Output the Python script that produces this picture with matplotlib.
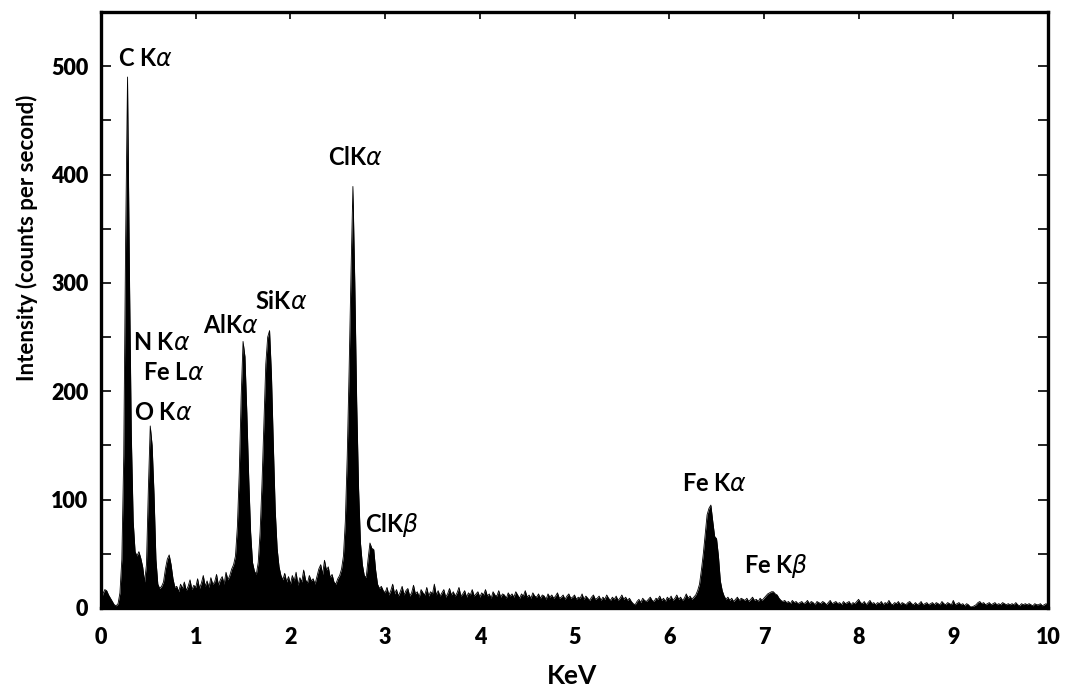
import matplotlib
matplotlib.use("Agg")
import matplotlib.pyplot as plt
import numpy as np

# EDS spectrum, channels every 0.02 keV from 0 to 10 keV
energy = np.linspace(0, 10, 501)

# counts per second, 0.00 - 2.98 keV
cps_low = [
    6, 13, 17, 16, 12, 9, 6, 3, 2, 4,            # 0.00
    14, 45, 140, 340, 490, 310, 160, 80, 52, 48,  # 0.20
    52, 46, 38, 24, 40, 110, 168, 150, 105, 45,   # 0.40
    22, 18, 20, 24, 36, 45, 49, 40, 27, 19,       # 0.60
    20, 15, 22, 18, 24, 16, 20, 26, 17, 21,       # 0.80
    19, 27, 18, 23, 30, 20, 25, 19, 28, 22,       # 1.00
    24, 31, 21, 26, 29, 22, 33, 26, 30, 36,       # 1.20
    40, 48, 75, 125, 195, 246, 232, 180, 120, 70, # 1.40
    42, 34, 31, 42, 70, 115, 170, 225, 250, 256,  # 1.60
    215, 150, 90, 55, 38, 30, 26, 32, 24, 29,     # 1.80
    22, 30, 25, 33, 21, 28, 24, 35, 26, 23,       # 2.00
    30, 25, 27, 22, 29, 36, 40, 31, 44, 35,       # 2.20
    38, 28, 31, 24, 22, 27, 30, 36, 48, 80,       # 2.40
    140, 220, 310, 389, 300, 190, 110, 60, 40, 30, # 2.60
    28, 45, 60, 55, 54, 35, 22, 18, 20, 16,       # 2.80
]
# 3.00 - 5.98 keV
cps_mid = [
    14, 19, 12, 16, 22, 13, 17, 11, 15, 20,
    12, 16, 18, 11, 14, 21, 13, 15, 10, 17,
    14, 12, 19, 11, 15, 13, 22, 12, 16, 11,
    14, 17, 10, 13, 18, 12, 15, 11, 14, 19,
    11, 13, 16, 10, 14, 12, 17, 11, 13, 15,
    10, 14, 12, 17, 11, 13, 9, 15, 12, 11,
    16, 10, 13, 12, 9, 14, 11, 13, 10, 15,
    12, 9, 13, 11, 16, 10, 12, 9, 14, 11,
    10, 13, 9, 12, 11, 8, 13, 10, 12, 9,
    11, 14, 9, 10, 12, 8, 11, 13, 9, 10,
    12, 8, 10, 9, 13, 8, 11, 9, 7, 10,
    12, 8, 9, 11, 7, 10, 8, 12, 9, 7,
    10, 8, 11, 7, 9, 12, 8, 10, 7, 9,
    6, 4, 3, 6, 8, 5, 9, 7, 6, 8,
    10, 7, 6, 9, 8, 11, 7, 9, 6, 10,
]
# 6.00 - 10.00 keV
cps_high = [
    8, 11, 7, 9, 12, 8, 10, 7, 9, 13,
    9, 11, 8, 10, 12, 16, 22, 35, 50, 68,
    86, 92, 95, 80, 66, 64, 48, 25, 16, 11,
    8, 10, 7, 9, 6, 8, 10, 7, 9, 8,
    7, 9, 6, 8, 10, 7, 8, 6, 9, 7,
    9, 11, 13, 14, 15, 15, 13, 12, 9, 7,
    6, 7, 5, 6, 4, 7, 5, 6, 4, 5,
    6, 4, 5, 7, 4, 6, 5, 3, 6, 5,
    4, 6, 5, 3, 5, 7, 4, 5, 6, 4,
    5, 3, 6, 4, 5, 6, 3, 5, 4, 6,
    8, 5, 4, 6, 3, 5, 7, 4, 5, 3,
    5, 4, 6, 3, 5, 4, 7, 4, 3, 5,
    4, 6, 3, 5, 4, 3, 5, 6, 4, 3,
    5, 3, 4, 6, 3, 4, 5, 3, 4, 5,
    3, 5, 4, 3, 6, 4, 3, 5, 4, 3,
    7, 3, 4, 5, 3, 4, 2, 4, 3, 1,
    1, 2, 3, 5, 6, 4, 5, 3, 4, 5,
    3, 4, 5, 3, 4, 3, 5, 4, 3, 4,
    3, 4, 3, 5, 3, 2, 4, 3, 4, 3,
    4, 3, 2, 4, 3, 3, 4, 2, 3, 4,
    2,
]
counts = np.array(cps_low + cps_mid + cps_high, dtype=float)

# peak labels: text, x (keV), y (cps)
peak_names = [r'C K$\alpha$', r'N K$\alpha$', r'Fe L$\alpha$', r'O K$\alpha$',
              r'AlK$\alpha$', r'SiK$\alpha$', r'ClK$\alpha$', r'ClK$\beta$',
              r'Fe K$\alpha$', r'Fe K$\beta$']
peak_x = [0.18, 0.34, 0.44, 0.35, 1.08, 1.63, 2.40, 2.79, 6.14, 6.79]
peak_y = [507, 245, 217, 180, 261, 283, 416, 77, 115, 39]

fig = plt.figure(figsize=(10.65, 6.92), dpi=100)
ax = fig.add_axes([101 / 1065, 84 / 692, 947 / 1065, 596 / 692])

ax.fill_between(energy, counts, 0, color='black', lw=0)
ax.plot(energy, counts, color='black', lw=0.6)

ax.set_xlim(0, 10)
ax.set_ylim(0, 550)
ax.set_xticks(range(0, 11))
ax.set_yticks(range(0, 501, 100))
ax.set_yticks(range(50, 550, 100), minor=True)

ax.tick_params(axis='y', which='both', direction='in', left=True, right=True,
               length=7, width=1.2, pad=9)
ax.tick_params(axis='x', which='both', direction='in', top=True, bottom=False,
               length=5, width=1.2, pad=14)
for lab in ax.get_xticklabels() + ax.get_yticklabels():
    lab.set_family('Lato')
    lab.set_fontweight('heavy')
    lab.set_fontsize(15.5)

for s in ax.spines.values():
    s.set_linewidth(2.4)

for name, x, y in zip(peak_names, peak_x, peak_y):
    ax.text(x, y, name, family='Lato', fontweight='bold', fontsize=17,
            ha='left', va='center')

fig.text(27 / 1065, 1 - 238 / 692, 'Intensity (counts per second)', rotation=90,
         family='Lato', fontweight='bold', fontsize=16, ha='center', va='center')
fig.text(572 / 1065, 1 - 676 / 692, 'KeV', family='Lato', fontweight='bold',
         fontsize=19, ha='center', va='center')

fig.savefig('out.png', dpi=100)
